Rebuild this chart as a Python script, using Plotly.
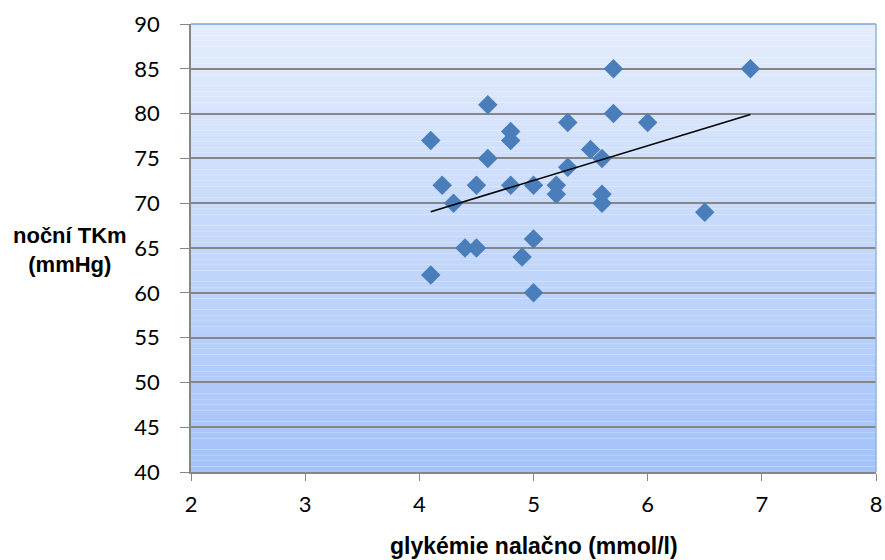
import numpy as np
import plotly.graph_objects as go

glykemie = [4.1, 4.1, 4.2, 4.3, 4.4, 4.5, 4.5, 4.6, 4.6, 4.8, 4.8, 4.8, 4.9, 5.0, 5.0, 5.0,
            5.2, 5.2, 5.3, 5.3, 5.5, 5.6, 5.6, 5.6, 5.7, 5.7, 6.0, 6.5, 6.9]
tkm = [77, 62, 72, 70, 65, 65, 72, 81, 75, 78, 77, 72, 64, 72, 66, 60,
       72, 71, 79, 74, 76, 75, 71, 70, 85, 80, 79, 69, 85]

x_ticks = [2, 3, 4, 5, 6, 7, 8]
y_ticks = [40, 45, 50, 55, 60, 65, 70, 75, 80, 85, 90]

xa = np.array(glykemie)
ya = np.array(tkm)
slope, intercept = np.polyfit(xa, ya, 1)
tx = [xa.min(), xa.max()]
ty = [slope * v + intercept for v in tx]

fig = go.Figure()
fig.add_trace(go.Scatter(x=glykemie, y=tkm, mode="markers",
                         marker=dict(symbol="diamond", size=15, color="#4a7ebb",
                                     line=dict(width=0)),
                         showlegend=False, hoverinfo="x+y"))
fig.add_trace(go.Scatter(x=tx, y=ty, mode="lines",
                         line=dict(color="black", width=1.5), showlegend=False))

# gradient background
shapes = []
n = 80
top = np.array([0xe4, 0xed, 0xfc])
bot = np.array([0xa4, 0xc3, 0xfa])
for i in range(n):
    t = (i + 0.5) / n
    c = top * (1 - t) + bot * t
    shapes.append(dict(type="rect", xref="paper", yref="paper", x0=0, x1=1,
                       y0=1 - (i + 1) / n, y1=1 - i / n, layer="below",
                       line=dict(width=0),
                       fillcolor="rgb(%d,%d,%d)" % tuple(c.astype(int))))
shapes.append(dict(type="line", xref="paper", yref="paper", x0=0, x1=1, y0=1, y1=1,
                   layer="above", line=dict(color="#7aa2dc", width=1.5)))
shapes.append(dict(type="line", xref="paper", yref="paper", x0=1, x1=1, y0=0, y1=1,
                   layer="above", line=dict(color="#8eb4e3", width=1.5)))

font = "Lato, 'Noto Sans', sans-serif"
fig.update_layout(
    width=885, height=560,
    margin=dict(l=191, r=9, t=24, b=88, autoexpand=False),
    paper_bgcolor="white", plot_bgcolor="rgba(0,0,0,0)",
    font=dict(family=font, size=22, color="black"),
    shapes=shapes,
    xaxis=dict(range=[2, 8], tickvals=x_ticks, showgrid=False, zeroline=False,
               ticks="outside", ticklen=7, tickcolor="#868686", automargin=False,
               showline=True, linecolor="#868686", linewidth=1.5,
               ticklabelstandoff=5, tickfont=dict(family=font, size=22)),
    yaxis=dict(range=[40, 90], tickvals=y_ticks, showgrid=True, gridcolor="#868686",
               gridwidth=1.5, zeroline=False, ticks="outside", ticklen=9,
               tickcolor="#868686", showline=True, linecolor="#868686", linewidth=1.5,
               ticklabelstandoff=16, automargin=False, tickfont=dict(family=font, size=22)),
    annotations=[
        dict(text="<b>noční TKm<br>(mmHg)</b>", xref="paper", yref="paper",
             x=-0.177, y=0.496, xanchor="center", yanchor="middle", showarrow=False,
             font=dict(family="'Liberation Sans', Arial, sans-serif", size=22, weight="bold")),
        dict(text="<b>glykémie nalačno (mmol/l)</b>", xref="paper", yref="paper",
             x=0.5, y=-0.198, xanchor="center", yanchor="bottom", showarrow=False,
             font=dict(family="'Liberation Sans', Arial, sans-serif", size=23, weight="bold")),
    ],
)
fig.write_html("out.html")
